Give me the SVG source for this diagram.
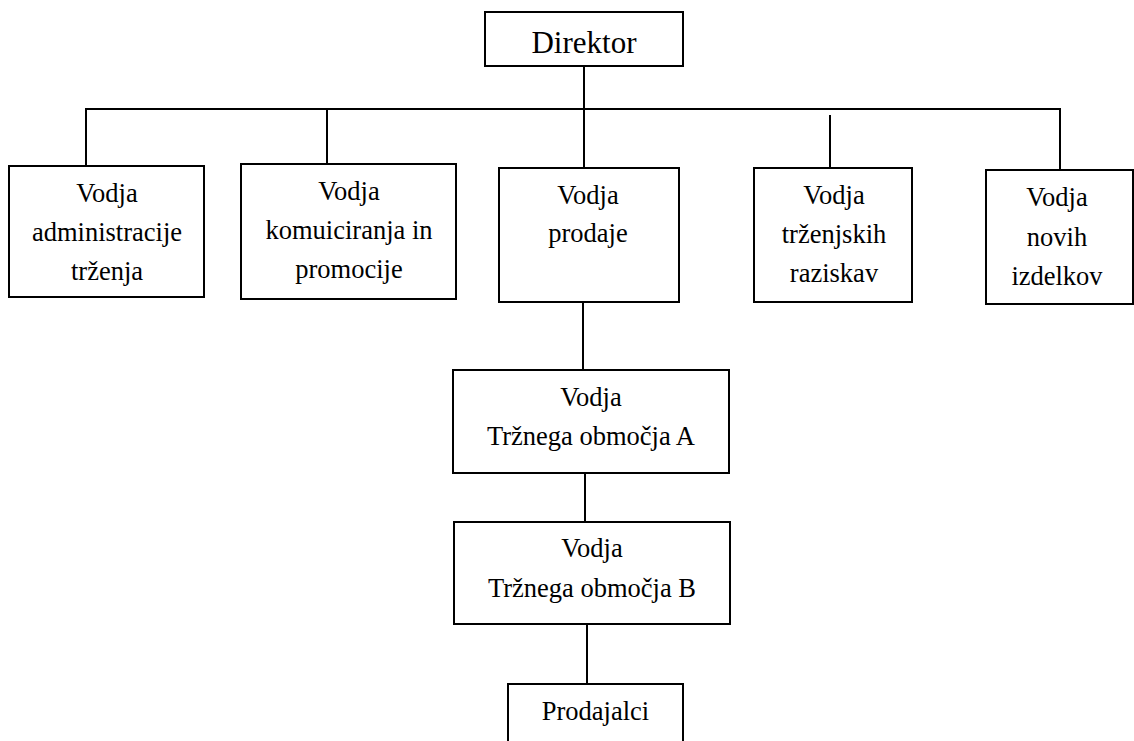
<svg xmlns="http://www.w3.org/2000/svg" width="1134" height="741" viewBox="0 0 1134 741">
  <style>
    .box { fill: #ffffff; stroke: #000000; stroke-width: 2; }
    .link { fill: none; stroke: #000000; stroke-width: 2; }
    .lbl { font-family: "Liberation Serif", "Times New Roman", serif; font-size: 26.5px; fill: #000000; text-anchor: middle; }
    .big { font-size: 31px; }
  </style>
  <rect width="1134" height="741" fill="#ffffff"/>

  <!-- connectors -->
  <g id="connectors">
    <line class="link" x1="584" y1="66" x2="584" y2="109"/>
    <polyline class="link" points="86,166 86,109 1060,109 1060,170"/>
    <line class="link" x1="327" y1="109" x2="327" y2="164"/>
    <line class="link" x1="584" y1="109" x2="584" y2="168"/>
    <line class="link" x1="830" y1="115" x2="830" y2="168"/>
    <line class="link" x1="583" y1="302" x2="583" y2="370"/>
    <line class="link" x1="585" y1="473" x2="585" y2="522"/>
    <line class="link" x1="587" y1="624" x2="587" y2="684"/>
  </g>

  <!-- director -->
  <g id="direktor">
    <rect class="box" x="485" y="12" width="198" height="54"/>
    <text class="lbl big" x="584" y="53">Direktor</text>
  </g>

  <!-- second level -->
  <g id="administracija">
    <rect class="box" x="9" y="166" width="195" height="131"/>
    <text class="lbl" x="107" y="202">Vodja</text>
    <text class="lbl" x="107" y="241">administracije</text>
    <text class="lbl" x="107" y="280">trženja</text>
  </g>
  <g id="komuniciranje">
    <rect class="box" x="241" y="164" width="215" height="135"/>
    <text class="lbl" x="349" y="200">Vodja</text>
    <text class="lbl" x="349" y="239">komuiciranja in</text>
    <text class="lbl" x="349" y="278">promocije</text>
  </g>
  <g id="prodaja">
    <rect class="box" x="499" y="168" width="180" height="134"/>
    <text class="lbl" x="588" y="204">Vodja</text>
    <text class="lbl" x="588" y="242">prodaje</text>
  </g>
  <g id="raziskave">
    <rect class="box" x="754" y="168" width="158" height="134"/>
    <text class="lbl" x="834" y="204">Vodja</text>
    <text class="lbl" x="834" y="243">trženjskih</text>
    <text class="lbl" x="834" y="282">raziskav</text>
  </g>
  <g id="novi-izdelki">
    <rect class="box" x="986" y="170" width="147" height="134"/>
    <text class="lbl" x="1057" y="206">Vodja</text>
    <text class="lbl" x="1057" y="246">novih</text>
    <text class="lbl" x="1057" y="285">izdelkov</text>
  </g>

  <!-- sales chain -->
  <g id="obmocje-a">
    <rect class="box" x="453" y="370" width="276" height="103"/>
    <text class="lbl" x="591" y="406">Vodja</text>
    <text class="lbl" x="591" y="445">Tržnega območja A</text>
  </g>
  <g id="obmocje-b">
    <rect class="box" x="454" y="522" width="276" height="102"/>
    <text class="lbl" x="592" y="557">Vodja</text>
    <text class="lbl" x="592" y="597">Tržnega območja B</text>
  </g>
  <g id="prodajalci">
    <rect class="box" x="508" y="684" width="175" height="70"/>
    <text class="lbl" x="595.5" y="720">Prodajalci</text>
  </g>
</svg>
